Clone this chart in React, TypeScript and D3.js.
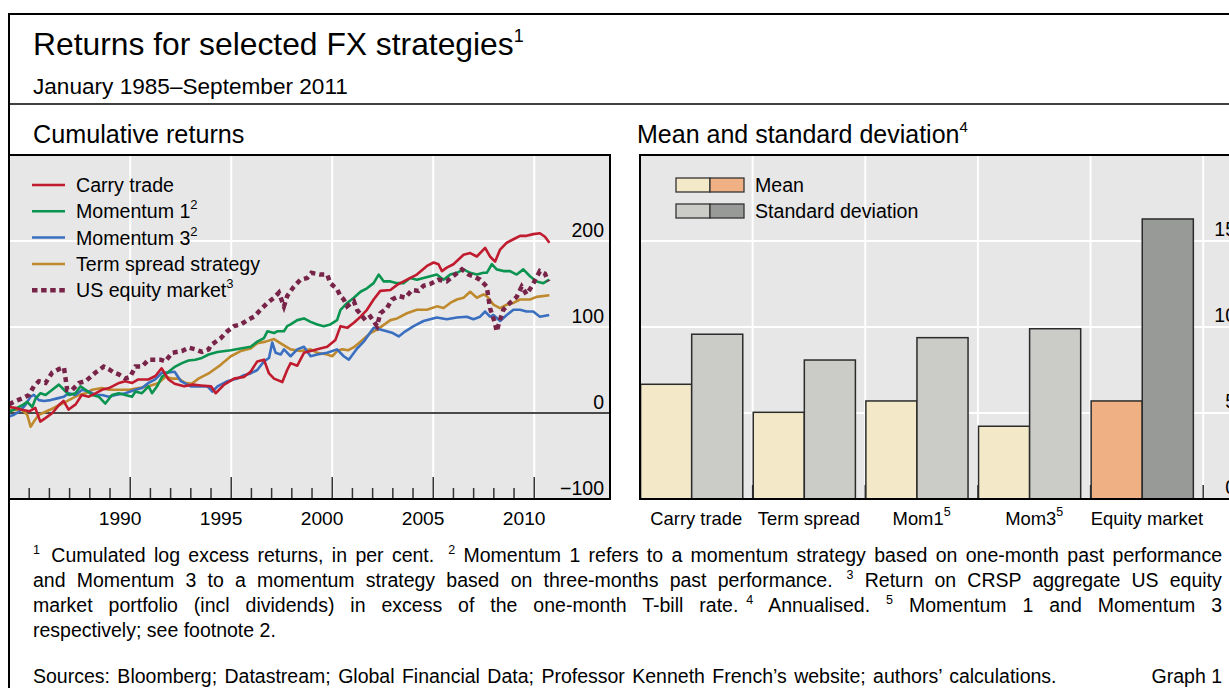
import React, { useLayoutEffect, useRef } from 'react';
import * as d3 from 'd3';

type P = [number, number];

const carryTrade: P[] = [[1985.0,7],[1985.3,6],[1985.6,4],[1986.0,2],[1986.3,6],[1986.55,-10],[1986.8,-6],[1987.15,0],[1987.5,10],[1987.7,14],[1987.95,4],[1988.3,10],[1988.6,21],[1988.95,19],[1989.3,23],[1989.6,27],[1989.95,29],[1990.45,35],[1990.75,37],[1991.1,35],[1991.4,39],[1991.9,39],[1992.25,43],[1992.55,52],[1992.9,39],[1993.2,34],[1993.67,31],[1994.1,33],[1994.5,32],[1995.0,31],[1995.23,23],[1995.65,33],[1996.14,40],[1996.63,42],[1996.96,48],[1997.29,60],[1997.62,62],[1997.87,46],[1998.12,40],[1998.53,36],[1998.77,50],[1998.94,58],[1999.27,55],[1999.6,70],[1999.93,72],[2000.26,74],[2000.75,77],[2001.16,85],[2001.41,101],[2001.74,99],[2002.07,105],[2002.4,112],[2002.72,120],[2003.05,132],[2003.38,142],[2003.88,143],[2004.21,149],[2004.7,155],[2005.19,161],[2005.69,171],[2006.02,175],[2006.26,173],[2006.43,165],[2006.67,169],[2007.0,173],[2007.5,184],[2007.83,186],[2008.16,182],[2008.57,192],[2008.81,182],[2009.06,176],[2009.31,190],[2009.64,198],[2009.97,202],[2010.3,206],[2010.62,206],[2010.95,208],[2011.28,209],[2011.53,205],[2011.75,198]];

const momentum1: P[] = [[1985,1.5],[1985.33,5],[1985.66,9],[1985.9,13],[1986.15,7],[1986.32,17],[1986.56,23],[1986.81,21],[1987.14,27],[1987.47,33],[1987.72,27],[1987.96,21],[1988.29,23],[1988.54,31],[1988.79,27],[1989.12,21],[1989.44,19],[1989.77,11],[1990.1,21],[1990.43,23],[1990.76,21],[1991.09,19],[1991.26,25],[1991.58,23],[1991.91,31],[1992.08,23],[1992.33,31],[1992.57,42],[1992.9,48],[1993.23,54],[1993.56,58],[1993.89,61],[1994.22,62],[1994.55,64],[1994.88,68],[1995.32,71],[1995.98,73],[1996.47,75],[1996.96,77],[1997.29,83],[1997.62,87],[1997.79,95],[1998.12,93],[1998.28,95],[1998.61,95],[1998.77,101],[1998.94,103],[1999.27,108],[1999.6,110],[1999.93,106],[2000.26,103],[2000.58,101],[2000.91,103],[2001.24,108],[2001.41,120],[2001.74,128],[2002.07,134],[2002.4,141],[2002.72,145],[2003.05,151],[2003.3,161],[2003.55,153],[2003.88,153],[2004.21,151],[2004.53,151],[2004.86,157],[2005.19,155],[2005.52,157],[2005.85,159],[2006.18,161],[2006.51,155],[2006.84,161],[2007.17,163],[2007.5,167],[2007.83,163],[2008.16,161],[2008.49,163],[2008.65,163],[2008.9,173],[2009.14,167],[2009.47,165],[2009.8,165],[2010.13,161],[2010.46,167],[2010.79,159],[2011.12,153],[2011.45,151],[2011.74,155]];

const momentum3: P[] = [[1985,-4],[1985.25,-2],[1985.5,1.5],[1985.8,9],[1986.07,19],[1986.23,21],[1986.48,15],[1986.73,14],[1987.06,15],[1987.39,17],[1987.72,19],[1987.96,23],[1988.29,21],[1988.62,27],[1988.95,25],[1989.28,21],[1989.6,21],[1989.94,19],[1990.27,21],[1990.76,23],[1991.26,27],[1991.58,29],[1991.91,35],[1992.24,39],[1992.57,47],[1992.9,47],[1993.2,48],[1993.51,37],[1994.0,31],[1994.5,31],[1994.82,31],[1995.07,25],[1995.32,31],[1995.81,37],[1996.3,40],[1996.63,44],[1996.96,46],[1997.29,50],[1997.62,60],[1997.87,64],[1998.03,82],[1998.2,70],[1998.45,68],[1998.61,74],[1998.94,66],[1999.27,74],[1999.6,77],[1999.93,66],[2000.26,68],[2000.75,70],[2001.24,74],[2001.57,66],[2001.82,62],[2002.23,75],[2002.56,83],[2003.05,99],[2003.38,97],[2003.7,95],[2004.0,93],[2004.29,89],[2004.62,95],[2005.03,101],[2005.52,107],[2006.18,111],[2006.67,109],[2007.17,111],[2007.66,112],[2007.99,109],[2008.32,112],[2008.57,118],[2008.81,112],[2008.98,114],[2009.31,107],[2009.64,114],[2009.97,120],[2010.3,120],[2010.62,118],[2010.95,118],[2011.28,112],[2011.74,114]];

const termSpread: P[] = [[1985,3],[1985.33,3.5],[1985.66,3.5],[1985.9,-2],[1986.07,-16],[1986.23,-10],[1986.48,-2],[1986.81,1.5],[1987.14,5],[1987.47,9],[1987.8,13],[1988.13,17],[1988.46,21],[1988.79,23],[1989.12,27],[1989.61,29],[1989.94,27],[1990.43,27],[1990.93,27],[1991.42,29],[1991.91,31],[1992.41,35],[1992.74,42],[1993.07,40],[1993.39,40],[1993.72,35],[1994.05,34],[1994.38,40],[1994.88,46],[1995.0,48],[1995.48,56],[1995.98,66],[1996.47,72],[1996.96,75],[1997.29,81],[1997.7,83],[1998.12,86],[1998.45,81],[1998.94,74],[1999.43,72],[1999.93,74],[2000.26,70],[2000.75,68],[2001.0,66],[2001.24,72],[2001.5,74],[2001.8,73],[2002.1,77],[2002.4,83],[2002.89,93],[2003.22,97],[2003.88,108],[2004.21,110],[2004.7,116],[2005.19,120],[2005.69,120],[2006.18,124],[2006.51,122],[2006.84,128],[2007.17,132],[2007.5,134],[2007.83,141],[2008.16,134],[2008.49,138],[2008.65,136],[2008.98,126],[2009.3,122],[2009.64,126],[2009.97,128],[2010.3,132],[2010.79,132],[2011.12,135],[2011.75,137]];

const usEquity: P[] = [[1985,10],[1985.33,14],[1985.66,17],[1985.99,21],[1986.23,31],[1986.48,37],[1986.81,35],[1987.14,47],[1987.47,51],[1987.72,53],[1987.88,27],[1988.13,27],[1988.46,35],[1988.79,37],[1989.28,47],[1989.69,54],[1989.94,51],[1990.19,47],[1990.43,45],[1990.76,40],[1991.0,42],[1991.26,54],[1991.58,54],[1991.91,62],[1992.24,62],[1992.5,62],[1992.74,60],[1993.07,70],[1993.56,72],[1993.89,76],[1994.22,74],[1994.55,71],[1994.88,74],[1995.0,79],[1995.48,87],[1995.81,95],[1996.14,101],[1996.47,103],[1996.8,108],[1997.13,112],[1997.45,120],[1997.79,128],[1998.12,134],[1998.36,140],[1998.61,124],[1998.77,136],[1999.1,147],[1999.43,155],[1999.76,157],[1999.97,163],[2000.4,161],[2000.75,161],[2000.91,151],[2001.24,144],[2001.41,136],[2001.57,132],[2001.74,124],[2002.07,130],[2002.23,120],[2002.64,108],[2002.89,112],[2003.22,101],[2003.38,116],[2003.71,122],[2003.96,132],[2004.29,136],[2004.62,134],[2004.95,143],[2005.27,142],[2005.52,148],[2005.85,150],[2006.26,155],[2006.67,153],[2007.09,161],[2007.42,167],[2007.75,161],[2007.99,159],[2008.32,155],[2008.65,147],[2008.81,122],[2009.06,104],[2009.14,95],[2009.3,108],[2009.47,120],[2009.8,128],[2010.13,135],[2010.38,147],[2010.62,138],[2010.87,147],[2011.12,158],[2011.28,165],[2011.53,162],[2011.7,153]];

const lineYTicks = [-100, 0, 100, 200];
const lineGridValues = [100, 200];
const yearLabels = [1990, 1995, 2000, 2005, 2010];

const barCategories = ['Carry trade', 'Term spread', 'Mom1', 'Mom3', 'Equity market'];
const barSup = ['', '', '5', '5', ''];
const meanValues = [6.67, 5.04, 5.7, 4.23, 5.7];
const stdValues = [9.58, 8.08, 9.38, 9.9, 16.28];
const barYTicks = [0, 5, 10, 15];

const FONT = '"Liberation Sans", Arial, Helvetica, sans-serif';

const COLORS = {
  carry: '#c01b2e',
  mom1: '#0b9450',
  mom3: '#3a6fc0',
  term: '#bf8a2e',
  equity: '#782449',
  bg: '#e7e7e7',
  meanLight: '#f3e9c9',
  meanDark: '#efb184',
  stdLight: '#cbccc7',
  stdDark: '#989a97',
};

type Seg = string | { sup: string; dx?: number };

const footLines: Seg[][] = [
  [{ sup: '1' }, ' Cumulated log excess returns, in per cent.', { sup: '2', dx: 14 }, ' Momentum 1 refers to a momentum strategy based on one-month past performance'],
  ['and Momentum 3 to a momentum strategy based on three-months past performance.', { sup: '3', dx: 14 }, ' Return on CRSP aggregate US equity'],
  ['market portfolio (incl dividends) in excess of the one-month T-bill rate.', { sup: '4', dx: 8 }, ' Annualised.', { sup: '5', dx: 16 }, ' Momentum 1 and Momentum 3'],
];

const FOOT_RIGHT = 1222;

export default function App() {
  const footRefs = useRef<(SVGTextElement | null)[]>([]);

  useLayoutEffect(() => {
    footRefs.current.forEach((el) => {
      if (!el) return;
      const spaces = ((el.textContent || '').match(/ /g) || []).length;
      if (!spaces) return;
      let ws = 0;
      el.setAttribute('word-spacing', '0');
      for (let k = 0; k < 4; k++) {
        const bb = el.getBBox();
        const right = bb.x + bb.width;
        ws += (FOOT_RIGHT - right) / spaces;
        el.setAttribute('word-spacing', String(ws));
      }
    });
  }, []);

  const xL = d3.scaleLinear().domain([1985, 2014.75]).range([9, 610]);
  const yL = d3.scaleLinear().domain([-100, 300]).range([499, 155]);
  const line = d3.line<P>().x((d) => xL(d[0])).y((d) => yL(d[1]));

  const x0 = d3.scaleBand<string>().domain(barCategories).range([640, 1203.2]);
  const x1 = d3.scaleBand<string>().domain(['mean', 'std']).range([0.6, 0.6 + x0.bandwidth() * 0.907]);
  const yR = d3.scaleLinear().domain([0, 20]).range([499, 155]);

  const minorYears = d3.range(1986, 2012);
  const majorYears = [1991, 1996, 2001, 2006, 2011];

  const series = [
    { key: 'term', data: termSpread, color: COLORS.term },
    { key: 'mom3', data: momentum3, color: COLORS.mom3 },
    { key: 'mom1', data: momentum1, color: COLORS.mom1 },
    { key: 'carry', data: carryTrade, color: COLORS.carry },
  ];

  const legendL = [
    { label: 'Carry trade', sup: '', color: COLORS.carry, dotted: false },
    { label: 'Momentum 1', sup: '2', color: COLORS.mom1, dotted: false },
    { label: 'Momentum 3', sup: '2', color: COLORS.mom3, dotted: false },
    { label: 'Term spread strategy', sup: '', color: COLORS.term, dotted: false },
    { label: 'US equity market', sup: '3', color: COLORS.equity, dotted: true },
  ];

  return (
    <svg
      width={1229}
      height={688}
      style={{ position: 'absolute', left: 0, top: 0, background: '#fff' }}
      fontFamily={FONT}
    >
      {/* Header */}
      <text x={33} y={55} fontSize={31.8} fill="#000">
        Returns for selected FX strategies
        <tspan dy={-13} fontSize={18}>1</tspan>
      </text>
      <text x={33} y={93.5} fontSize={22.6} fill="#000">January 1985–September 2011</text>
      <text x={33} y={143} fontSize={25.2} fill="#000">Cumulative returns</text>
      <text x={637} y={143} fontSize={25} fill="#000">
        Mean and standard deviation
        <tspan dy={-11} fontSize={15}>4</tspan>
      </text>

      {/* Left panel */}
      <rect x={9} y={155} width={601} height={344} fill={COLORS.bg} />
      {lineGridValues.map((v) => (
        <line key={'gh' + v} x1={9} x2={610} y1={yL(v)} y2={yL(v)} stroke="#fff" strokeWidth={2} />
      ))}
      {majorYears.map((yr) => (
        <line key={'gv' + yr} x1={xL(yr)} x2={xL(yr)} y1={155} y2={499} stroke="#fff" strokeWidth={2} />
      ))}
      <line x1={9} x2={610} y1={yL(0)} y2={yL(0)} stroke="#4a4a4a" strokeWidth={1.8} />

      {/* Legend left */}
      {legendL.map((l, i) => {
        const y = 185 + i * 26.3;
        return (
          <g key={l.label}>
            <line
              x1={32}
              x2={65}
              y1={y}
              y2={y}
              stroke={l.color}
              strokeWidth={l.dotted ? 4.5 : 2.5}
              strokeDasharray={l.dotted ? '5.5,3.6' : undefined}
            />
            <text x={76} y={y + 7} fontSize={19.6} fill="#000">
              {l.label}
              {l.sup ? <tspan dy={-9} fontSize={13}>{l.sup}</tspan> : null}
            </text>
          </g>
        );
      })}

      {series.map((s) => (
        <path key={s.key} d={line(s.data) || ''} fill="none" stroke={s.color} strokeWidth={2.6} strokeLinejoin="round" />
      ))}
      <path d={line(usEquity) || ''} fill="none" stroke={COLORS.equity} strokeWidth={4.5} strokeDasharray="5,4" />

      {/* ticks */}
      {minorYears.map((yr) => {
        const major = majorYears.includes(yr);
        return (
          <line
            key={'t' + yr}
            x1={xL(yr)}
            x2={xL(yr)}
            y1={499}
            y2={major ? 477 : 488}
            stroke="#333"
            strokeWidth={1.5}
          />
        );
      })}
      {lineYTicks.map((v) => (
        <text key={'ly' + v} x={604} y={yL(v) - 4.5} fontSize={19.5} textAnchor="end" fill="#000">
          {v < 0 ? '\u2212' + Math.abs(v) : String(v)}
        </text>
      ))}
      {yearLabels.map((yr) => (
        <text key={'yl' + yr} x={xL(yr + 0.5)} y={524.5} fontSize={19.2} textAnchor="middle" fill="#000">
          {yr}
        </text>
      ))}
      {/* left panel borders */}
      <line x1={9} x2={611} y1={155} y2={155} stroke="#000" strokeWidth={2} />
      <line x1={610} x2={610} y1={154} y2={500} stroke="#000" strokeWidth={2} />
      <line x1={9} x2={611} y1={499} y2={499} stroke="#000" strokeWidth={2} />

      {/* Right panel */}
      <rect x={640} y={155} width={600} height={344} fill={COLORS.bg} />
      {barYTicks.filter((v) => v > 0).map((v) => (
        <line key={'rg' + v} x1={640} x2={1229} y1={yR(v)} y2={yR(v)} stroke="#fff" strokeWidth={2} />
      ))}
      {barCategories.map((c) => (
        <line key={'rv' + c} x1={(x0(c) || 0) + x0.bandwidth()} x2={(x0(c) || 0) + x0.bandwidth()} y1={155} y2={499} stroke="#fff" strokeWidth={2} />
      ))}

      {/* legend right */}
      <g>
        <rect x={676} y={178} width={34} height={14} fill={COLORS.meanLight} stroke="#333" strokeWidth={1.3} />
        <rect x={710} y={178} width={34} height={14} fill={COLORS.meanDark} stroke="#333" strokeWidth={1.3} />
        <text x={755} y={192.3} fontSize={19.6} fill="#000">Mean</text>
        <rect x={676} y={204} width={34} height={14} fill={COLORS.stdLight} stroke="#333" strokeWidth={1.3} />
        <rect x={710} y={204} width={34} height={14} fill={COLORS.stdDark} stroke="#333" strokeWidth={1.3} />
        <text x={755} y={218.3} fontSize={19.6} fill="#000">Standard deviation</text>
      </g>

      {barCategories.map((c, i) => {
        const bx = x0(c) || 0;
        const eq = i === barCategories.length - 1;
        return (
          <g key={'b' + c}>
            <rect
              x={bx + (x1('mean') || 0)}
              y={yR(meanValues[i])}
              width={x1.bandwidth()}
              height={yR(0) - yR(meanValues[i])}
              fill={eq ? COLORS.meanDark : COLORS.meanLight}
              stroke="#2b2b2b"
              strokeWidth={1.5}
            />
            <rect
              x={bx + (x1('std') || 0)}
              y={yR(stdValues[i])}
              width={x1.bandwidth()}
              height={yR(0) - yR(stdValues[i])}
              fill={eq ? COLORS.stdDark : COLORS.stdLight}
              stroke="#2b2b2b"
              strokeWidth={1.5}
            />
            <line x1={bx + x0.bandwidth()} x2={bx + x0.bandwidth()} y1={499} y2={485} stroke="#333" strokeWidth={1.5} />
            <text x={bx + x0.bandwidth() / 2} y={525} fontSize={18.4} textAnchor="middle" fill="#000">
              {c}
              {barSup[i] ? <tspan dy={-9} fontSize={12.5}>{barSup[i]}</tspan> : null}
            </text>
          </g>
        );
      })}
      {barYTicks.map((v) => (
        <text key={'ry' + v} x={1236} y={yR(v) - 5.5} fontSize={19.5} textAnchor="end" fill="#000">
          {v}
        </text>
      ))}
      <line x1={639} x2={1229} y1={155} y2={155} stroke="#000" strokeWidth={2} />
      <line x1={640} x2={640} y1={154} y2={500} stroke="#000" strokeWidth={2} />
      <line x1={639} x2={1229} y1={499} y2={499} stroke="#000" strokeWidth={2} />

      {/* Footnotes */}
      {footLines.map((segs, li) => (
        <text
          key={'fn' + li}
          ref={(el) => {
            footRefs.current[li] = el;
          }}
          x={33}
          y={562 + li * 25}
          fontSize={19.5}
          fill="#000"
        >
          {segs.map((s, si) =>
            typeof s === 'string' ? (
              <tspan key={si} dx={si === 1 && li === 0 ? 3 : 0} dy={si > 0 && typeof segs[si - 1] !== 'string' ? 8 : 0}>{s}</tspan>
            ) : (
              <tspan key={si} dx={s.dx || 0} dy={-8} fontSize={12.5}>{s.sup}</tspan>
            )
          )}
        </text>
      ))}
      <text x={33} y={637} fontSize={19.5} fill="#000">respectively; see footnote 2.</text>
      <text x={33} y={683} fontSize={19.5} fill="#000" wordSpacing={2}>
        Sources: Bloomberg; Datastream; Global Financial Data; Professor Kenneth French’s website; authors’ calculations.
      </text>
      <text x={1222} y={683} fontSize={19.5} textAnchor="end" fill="#000">Graph 1</text>

      {/* Frame */}
      <line x1={8} x2={1229} y1={14} y2={14} stroke="#000" strokeWidth={2} />
      <line x1={8} x2={1229} y1={104} y2={104} stroke="#000" strokeWidth={1.5} />
      <line x1={9} x2={9} y1={13} y2={688} stroke="#000" strokeWidth={2} />
    </svg>
  );
}
